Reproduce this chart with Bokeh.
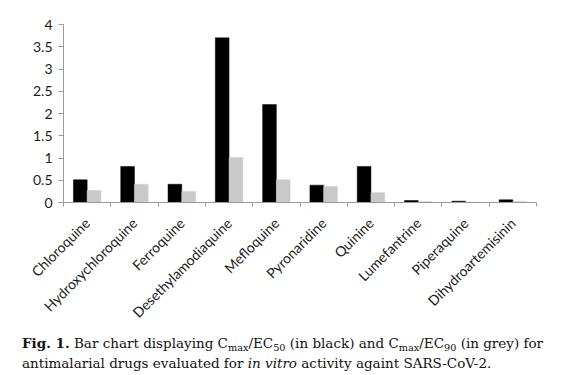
from math import pi
from bokeh.plotting import figure
from bokeh.models import FixedTicker, Range1d, Div
from bokeh.layouts import column
from bokeh.embed import file_html
from bokeh.resources import INLINE

drugs = ["Chloroquine", "Hydroxychloroquine", "Ferroquine", "Desethylamodiaquine",
         "Mefloquine", "Pyronaridine", "Quinine", "Lumefantrine", "Piperaquine",
         "Dihydroartemisinin"]
cmax_ec50 = [0.51, 0.81, 0.41, 3.70, 2.20, 0.39, 0.81, 0.045, 0.03, 0.06]
cmax_ec90 = [0.27, 0.41, 0.25, 1.01, 0.51, 0.36, 0.22, 0.02, 0.01, 0.025]
y_ticks = [0, 0.5, 1, 1.5, 2, 2.5, 3, 3.5, 4]
y_tick_labels = ["0", "0.5", "1", "1.5", "2", "2.5", "3", "3.5", "4"]

n = len(drugs)
centers = [i + 0.5 for i in range(n)]
bar_w = 0.29

p = figure(frame_width=473, frame_height=178, output_backend="svg",
           toolbar_location=None, x_range=Range1d(0, n), y_range=Range1d(0, 4),
           min_border_left=63, min_border_right=20, min_border_top=24,
           min_border_bottom=120)
p.outline_line_color = None
p.xgrid.grid_line_color = None
p.ygrid.grid_line_color = None
p.background_fill_color = "white"
p.border_fill_color = "white"

p.vbar(x=[c - bar_w / 2 for c in centers], top=cmax_ec50, width=bar_w,
       fill_color="black", line_color="black", line_width=0.5)
p.vbar(x=[c + bar_w / 2 for c in centers], top=cmax_ec90, width=bar_w,
       fill_color="#c9c9c9", line_color="#c9c9c9", line_width=0.5)

axis_grey = "#9a9a9a"
font = "Lato"

ya = p.yaxis[0]
ya.ticker = FixedTicker(ticks=y_ticks)
ya.major_label_overrides = {t: l for t, l in zip(y_ticks, y_tick_labels)}
ya.axis_line_color = axis_grey
ya.major_tick_line_color = axis_grey
ya.major_tick_out = 5
ya.major_tick_in = 0
ya.minor_tick_line_color = None
ya.major_label_standoff = 6
ya.major_label_text_font = font
ya.major_label_text_font_size = "14px"
ya.major_label_text_color = "#1a1a1a"

xa = p.xaxis[0]
xa.ticker = FixedTicker(ticks=centers, minor_ticks=list(range(n + 1)))
xa.major_label_overrides = {c: d for c, d in zip(centers, drugs)}
xa.axis_line_color = axis_grey
xa.major_tick_line_color = None
xa.minor_tick_line_color = axis_grey
xa.minor_tick_out = 4
xa.minor_tick_in = 0
xa.major_label_orientation = pi / 4
xa.major_label_standoff = 12
xa.major_label_text_font = font
xa.major_label_text_font_size = "14px"
xa.major_label_text_color = "#1a1a1a"

sub = '<sub style="font-size:72%;line-height:0;vertical-align:-0.3em">'
caption = Div(
    text=("<b>Fig. 1.</b> Bar chart displaying C" + sub + "max</sub>/EC" + sub + "50</sub> (in black) "
          "and C" + sub + "max</sub>/EC" + sub + "90</sub> (in grey) for<br>antimalarial drugs evaluated "
          "for <i>in vitro</i> activity againt SARS-CoV-2."),
    width=545,
    styles={"font-family": "DejaVu Serif", "font-size": "13.5px", "line-height": "20px",
            "color": "#111", "margin-left": "22px", "margin-top": "4px",
            "white-space": "nowrap"},
)

layout = column(p, caption, spacing=0)
open("out.html", "w").write(file_html(layout, INLINE))
